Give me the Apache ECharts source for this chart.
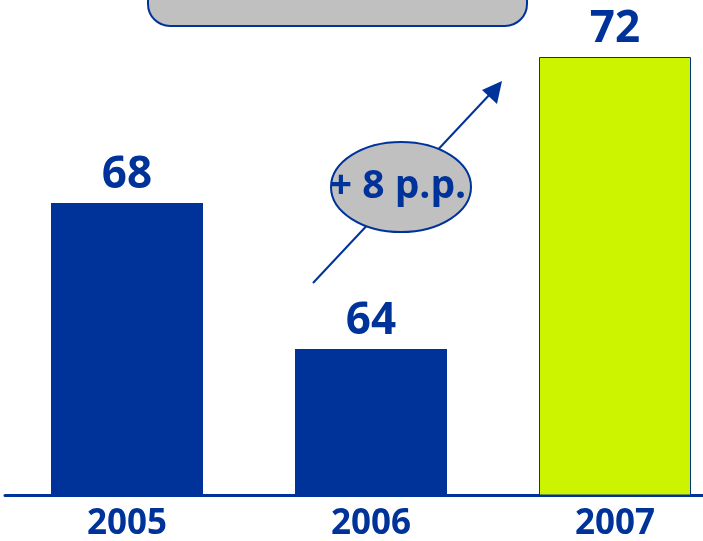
<!DOCTYPE html>
<html>
<head>
<meta charset="utf-8">
<script src="https://cdn.jsdelivr.net/npm/echarts@6/dist/echarts.min.js"></script>
<style>
  html, body { margin: 0; padding: 0; background: #fff; }
  #main { width: 703px; height: 541px; }
</style>
</head>
<body>
<div id="main"></div>
<script>
var years = ['2005', '2006', '2007'];
var values = [68, 64, 72];
var barColors = ['#003399', '#003399', '#ccf400'];
var growthLabel = '+ 8 p.p.';

var blue = '#003399';
var chart = echarts.init(document.getElementById('main'));

var option = {
    backgroundColor: '#fff',
    animation: false,
    grid: {
        left: 5,
        top: 57,
        right: -34,
        bottom: 46,
        containLabel: false,
        outerBoundsMode: 'none'
    },
    xAxis: {
        type: 'category',
        data: years,
        axisLine: { show: true, lineStyle: { color: blue, width: 3 } },
        axisTick: { show: false },
        axisLabel: {
            margin: 12,
            color: blue,
            fontSize: 35,
            fontWeight: 'bold',
            fontFamily: 'Open Sans'
        }
    },
    yAxis: {
        type: 'value',
        min: 60,
        max: 72,
        show: false,
        splitLine: { show: false }
    },
    series: [{
        type: 'bar',
        barWidth: 152,
        data: values.map(function (v, i) {
            return {
                value: v,
                itemStyle: {
                    color: barColors[i],
                    borderColor: i === 2 ? blue : barColors[i],
                    borderWidth: i === 2 ? 1 : 0
                }
            };
        }),
        label: {
            show: true,
            position: 'top',
            distance: 6,
            color: blue,
            fontSize: 44,
            fontWeight: 'bold',
            fontFamily: 'Open Sans'
        }
    }],
    graphic: [
        // title box (cut off at the top)
        {
            type: 'rect',
            shape: { x: 148, y: -50, width: 379, height: 76, r: 22 },
            style: { fill: '#c0c0c0', stroke: blue, lineWidth: 2 },
            z: 10
        },
        // arrow
        {
            type: 'line',
            shape: { x1: 313, y1: 283, x2: 492, y2: 92 },
            style: { stroke: blue, lineWidth: 2 },
            z: 10
        },
        {
            type: 'polygon',
            shape: { points: [[502, 81], [482, 90], [497, 104]] },
            style: { fill: blue },
            z: 10
        },
        {
            type: 'ellipse',
            shape: { cx: 401, cy: 187, rx: 70, ry: 45 },
            style: { fill: '#c0c0c0', stroke: blue, lineWidth: 2 },
            z: 11
        },
        {
            type: 'text',
            x: 398,
            y: 187,
            style: {
                text: growthLabel,
                fill: blue,
                font: 'bold 39px "Open Sans"',
                textAlign: 'center',
                textVerticalAlign: 'middle'
            },
            z: 12
        }
    ]
};

chart.setOption(option);
</script>
</body>
</html>
